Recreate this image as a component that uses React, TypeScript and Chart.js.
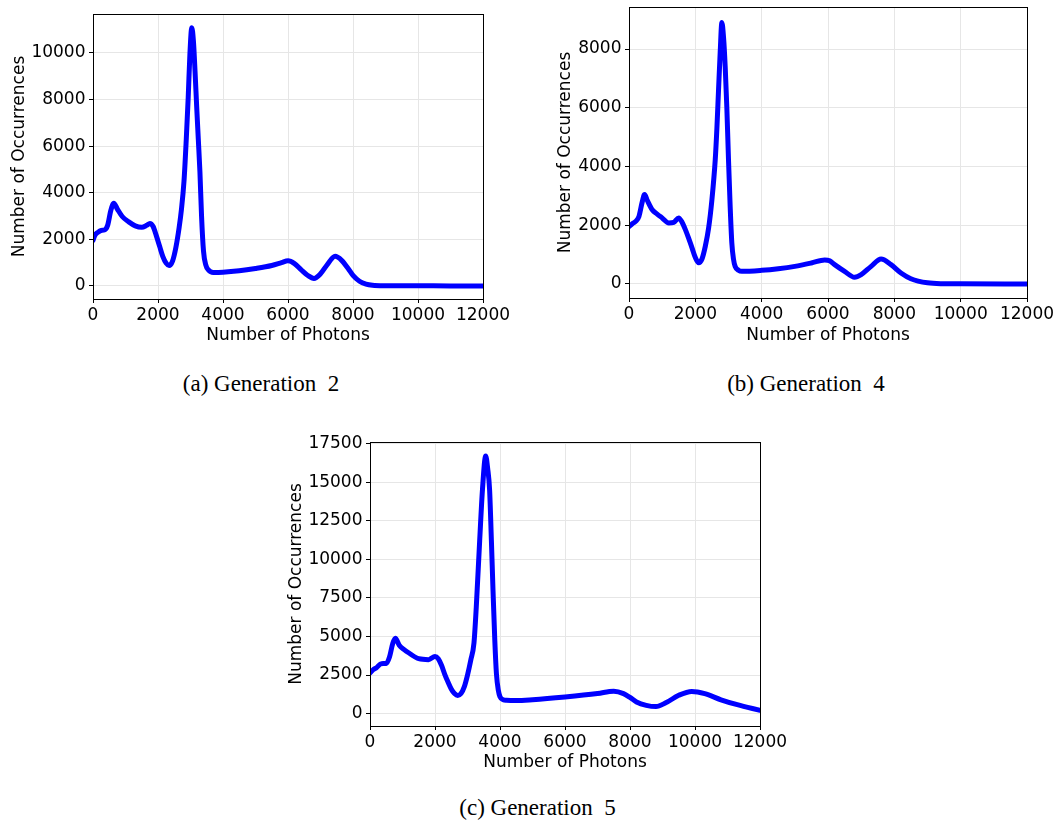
import React, { useEffect, useRef } from "react";
import { Chart, registerables } from "chart.js";

Chart.register(...registerables);

// ---- Tick labels ----
const X_TICKS = [0, 2000, 4000, 6000, 8000, 10000, 12000];
const A_Y_TICKS = [0, 2000, 4000, 6000, 8000, 10000];
const B_Y_TICKS = [0, 2000, 4000, 6000, 8000];
const C_Y_TICKS = [0, 2500, 5000, 7500, 10000, 12500, 15000, 17500];

// ---- (a) Generation 2 ----
const A_PHOTONS = [0, 50, 150, 250, 350, 450, 550, 640, 750, 900, 1100, 1300, 1500, 1650, 1750, 1850, 1950, 2050, 2150, 2250, 2340, 2450, 2550, 2650, 2720, 2800, 2870, 2930, 2980, 3040, 3090, 3140, 3190, 3240, 3290, 3340, 3400, 3470, 3550, 3700, 4000, 4500, 5000, 5500, 5800, 6000, 6200, 6400, 6600, 6800, 7000, 7200, 7450, 7650, 7850, 8000, 8200, 8400, 8600, 9000, 10000, 11000, 12000];
const A_COUNTS = [1950, 2150, 2300, 2380, 2400, 2600, 3250, 3550, 3300, 2980, 2750, 2580, 2520, 2600, 2680, 2550, 2150, 1700, 1260, 980, 880, 1080, 1650, 2500, 3270, 4500, 6300, 8100, 9900, 11080, 10500, 9200, 7700, 6300, 4900, 3000, 1500, 900, 690, 580, 590, 650, 750, 880, 1000, 1080, 960, 700, 460, 320, 520, 900, 1270, 1100, 750, 450, 200, 80, 30, 10, 5, 3, 0];

// ---- (b) Generation 4 ----
const B_PHOTONS = [0, 100, 200, 300, 400, 470, 550, 700, 850, 1000, 1200, 1350, 1500, 1600, 1700, 1800, 1900, 2000, 2100, 2200, 2300, 2400, 2500, 2600, 2650, 2700, 2750, 2800, 2850, 2900, 2950, 3000, 3050, 3100, 3150, 3200, 3300, 3400, 4000, 4500, 5000, 5500, 5900, 6050, 6200, 6500, 6800, 7000, 7300, 7600, 7900, 8200, 8500, 9000, 9500, 10000, 12000];
const B_COUNTS = [1950, 2050, 2130, 2300, 2800, 3050, 2850, 2530, 2380, 2250, 2080, 2100, 2250, 2100, 1850, 1550, 1230, 900, 720, 850, 1280, 1900, 2870, 4230, 5300, 6620, 7900, 8900, 8400, 7410, 6000, 4230, 2640, 1400, 850, 600, 470, 430, 465, 520, 600, 715, 820, 790, 660, 430, 230, 320, 600, 850, 660, 375, 180, 40, 10, 5, 0];

// ---- (c) Generation 5 ----
const C_PHOTONS = [0, 100, 200, 350, 500, 600, 700, 780, 900, 1050, 1200, 1500, 1800, 2000, 2100, 2200, 2300, 2400, 2500, 2600, 2700, 2800, 2900, 3000, 3100, 3200, 3270, 3375, 3460, 3560, 3620, 3680, 3735, 3785, 3840, 3890, 3950, 4000, 4100, 4200, 4500, 5000, 6000, 7000, 7500, 7800, 8000, 8200, 8500, 8800, 9100, 9500, 9900, 10300, 10800, 11300, 12000];
const C_COUNTS = [2640, 2850, 2980, 3240, 3250, 3670, 4540, 4880, 4430, 4150, 3930, 3560, 3500, 3700, 3550, 3130, 2550, 2050, 1600, 1300, 1180, 1300, 1730, 2500, 3460, 4600, 6900, 11230, 14500, 16700, 15900, 14500, 11230, 7990, 4750, 2590, 1500, 1100, 900, 865, 850, 905, 1080, 1300, 1450, 1300, 1050, 760, 540, 460, 700, 1190, 1440, 1300, 900, 580, 215];

const FONT = { family: "DejaVu Sans", size: 17 };

const boxPlugin = {
  id: "box",
  afterDatasetsDraw(chart: any) {
    const { ctx, chartArea: a } = chart;
    const al = (p: number) => Math.round(p - 0.5) + 0.5;
    ctx.save();
    ctx.strokeStyle = "#000";
    ctx.lineWidth = 1;
    const l = al(a.left), r = al(a.right), t = al(a.top), b = al(a.bottom);
    ctx.strokeRect(l, t, r - l, b - t);
    ctx.restore();
  },
};

type PanelProps = {
  left: number; top: number; width: number; height: number;
  padTop: number; padRight: number; padBottom: number;
  yW: number; xH: number;
  xs: number[]; ys: number[];
  yMin: number; yMax: number; yTicks: number[];
};

function Panel(p: PanelProps) {
  const ref = useRef<HTMLCanvasElement | null>(null);
  useEffect(() => {
    if (!ref.current) return;
    const chart = new Chart(ref.current, {
      type: "line",
      data: {
        datasets: [
          {
            data: p.xs.map((x, i) => ({ x, y: p.ys[i] })),
            borderColor: "#0000ff",
            backgroundColor: "#0000ff",
            borderWidth: 5,
            pointRadius: 0,
            cubicInterpolationMode: "monotone",
            borderCapStyle: "round",
            borderJoinStyle: "round",
            clip: 0,
          } as any,
        ],
      },
      options: {
        responsive: false,
        animation: false,
        events: [],
        layout: { padding: { left: 0, top: p.padTop, right: p.padRight, bottom: p.padBottom } },
        plugins: { legend: { display: false }, tooltip: { enabled: false } },
        scales: {
          x: {
            type: "linear",
            min: 0,
            max: 12000,
            afterBuildTicks: (s: any) => { s.ticks = X_TICKS.map((v) => ({ value: v })); },
            afterFit: (s: any) => { s.height = p.xH; s.paddingLeft = 0; s.paddingRight = 0; },
            grid: { color: "#e6e6e6", tickColor: "#000", tickLength: 4, lineWidth: 1 },
            border: { display: true, color: "#000" },
            ticks: { autoSkip: false, maxRotation: 0, minRotation: 0, padding: 2, color: "#000", font: FONT, callback: (v: any) => String(v) },
            title: { display: true, text: "Number of Photons", color: "#000", font: FONT, padding: { top: 0, bottom: 0 } },
          },
          y: {
            type: "linear",
            min: p.yMin,
            max: p.yMax,
            afterBuildTicks: (s: any) => { s.ticks = p.yTicks.map((v) => ({ value: v })); },
            afterFit: (s: any) => { s.width = p.yW; s.paddingTop = 0; s.paddingBottom = 0; },
            grid: { color: "#e6e6e6", tickColor: "#000", tickLength: 4, lineWidth: 1 },
            border: { display: true, color: "#000" },
            ticks: { autoSkip: false, padding: 3.5, color: "#000", font: FONT, callback: (v: any) => String(v) },
            title: { display: true, text: "Number of Occurrences", color: "#000", font: FONT, padding: { top: 9, bottom: 0 } },
          },
        },
      } as any,
      plugins: [boxPlugin],
    });
    return () => chart.destroy();
  }, []);
  return (
    <canvas
      ref={ref}
      width={p.width}
      height={p.height}
      style={{ position: "absolute", left: p.left, top: p.top, width: p.width, height: p.height, display: "block" }}
    />
  );
}

function Caption({ cx, top, text }: { cx: number; top: number; text: string }) {
  return (
    <div
      style={{
        position: "absolute",
        left: cx - 200,
        top,
        width: 400,
        textAlign: "center",
        fontFamily: "'Liberation Serif', 'Times New Roman', serif",
        fontSize: 23,
        lineHeight: "23px",
        color: "#000",
        whiteSpace: "pre",
      }}
    >
      {text}
    </div>
  );
}

export default function App() {
  return (
    <div style={{ position: "absolute", left: 0, top: 0, width: 1060, height: 826, background: "#fff", overflow: "hidden" }}>
      <Panel left={0} top={0} width={525} height={350} padTop={14} padRight={42} padBottom={4} yW={93} xH={47}
        xs={A_PHOTONS} ys={A_COUNTS} yMin={-560} yMax={11670} yTicks={A_Y_TICKS} />
      <Panel left={546} top={0} width={514} height={350} padTop={7} padRight={33} padBottom={4} yW={83} xH={48}
        xs={B_PHOTONS} ys={B_COUNTS} yMin={-477} yMax={9430} yTicks={B_Y_TICKS} />
      <Panel left={277} top={430} width={520} height={347} padTop={12} padRight={37} padBottom={4} yW={93} xH={47}
        xs={C_PHOTONS} ys={C_COUNTS} yMin={-800} yMax={17600} yTicks={C_Y_TICKS} />
      <Caption cx={261} top={371.5} text="(a) Generation  2" />
      <Caption cx={806} top={371.5} text="(b) Generation  4" />
      <Caption cx={537.5} top={795.8} text="(c) Generation  5" />
    </div>
  );
}
